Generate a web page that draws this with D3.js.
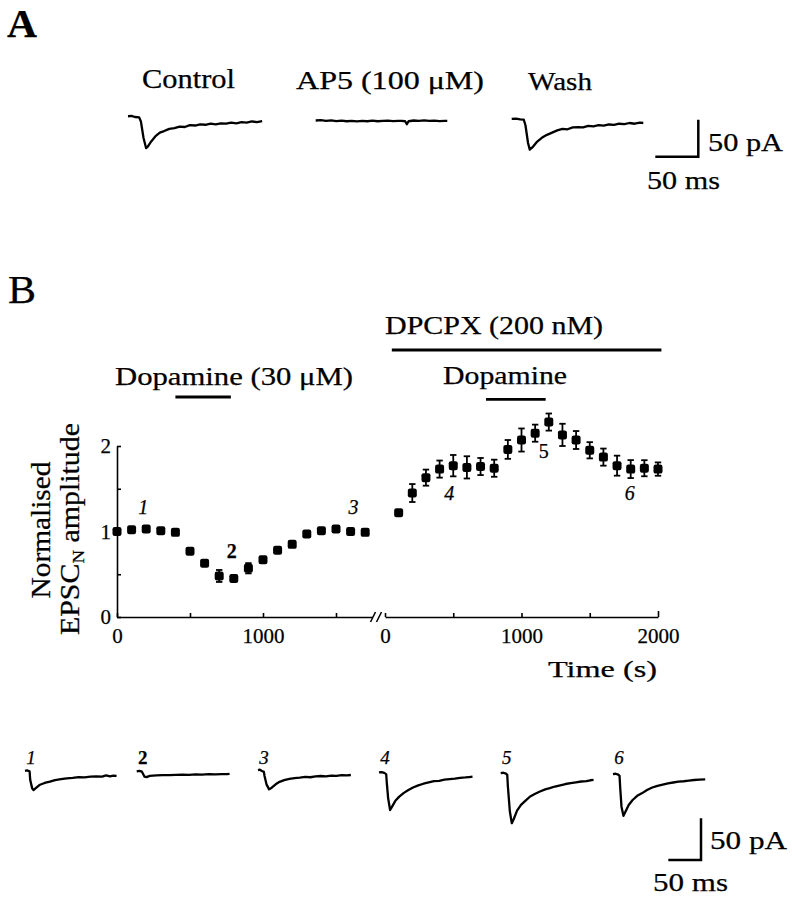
<!DOCTYPE html>
<html>
<head>
<meta charset="utf-8">
<script src="https://cdn.jsdelivr.net/npm/d3@7"></script>
<style>
  html, body { margin: 0; padding: 0; background: #fff; }
  svg { display: block; }
  text { font-family: "Liberation Serif", "Times New Roman", serif; fill: #000; stroke: #000; stroke-width: 0.25px; }
</style>
</head>
<body>
<svg id="chart" width="792" height="900"></svg>
<script>
// ---------------- DATA ----------------
// Panel B graph: control period (left segment) and in DPCPX (right segment)
const leftTime = [0,100,200,300,400,500,600,700,800,900,1000,1100,1200,1300,1400,1500,1600,1700];
const leftVal  = [1.00,1.02,1.03,1.01,0.99,0.77,0.63,0.48,0.45,0.57,0.67,0.78,0.85,0.97,1.01,1.03,1.00,0.99];
const leftErr  = [0.02,0.02,0.02,0.02,0.02,0.03,0.03,0.07,0.03,0.06,0.03,0.03,0.03,0.02,0.02,0.02,0.02,0.02];

const rightTime = [100,200,300,400,500,600,700,800,900,1000,1100,1200,1300,1400,1500,1600,1700,1800,1900,2000];
const rightVal  = [1.22,1.45,1.63,1.73,1.77,1.75,1.76,1.74,1.96,2.07,2.15,2.28,2.13,2.07,1.95,1.87,1.77,1.73,1.74,1.73];
const rightErr  = [0.02,0.105,0.094,0.10,0.125,0.13,0.10,0.10,0.11,0.135,0.10,0.10,0.13,0.105,0.095,0.10,0.117,0.105,0.094,0.078];

const yTicks = [0, 0.5, 1, 1.5, 2];
const yTickLabels = ["0", "", "1", "", "2"];
const leftXTicks = [0, 500, 1000, 1500];
const leftXTickLabels = ["0", "", "1000", ""];
const rightXTicks = [0, 500, 1000, 1500, 2000];
const rightXTickLabels = ["0", "", "1000", "", "2000"];

// drug application bars (s)
const dopamineLeft = [400, 780];
const dpcpxRight = [50, 2025];
const dopamineRight = [740, 1177];

// numbered sample points: [segment, time, label]
const sampleLabels = [["L",200,"1"],["L",800,"2"],["L",1600,"3"],["R",500,"4"],["R",1200,"5"],["R",1800,"6"]];

// Current traces: [time (ms), current (pA)]
const traceControl = [[0,1],[4,1.5],[8,0],[13,-0.5],[15,-6],[18,-28],[21,-42],[23,-40],[27,-33],[32,-26],[37,-21],[42,-19],[48,-16],[54,-15],[60,-13],[66,-13.5],[72,-11],[78,-11.5],[84,-10],[90,-10.5],[96,-9],[102,-10],[108,-8.5],[114,-9],[120,-7.5],[126,-8.5],[132,-7],[138,-7.5],[144,-6],[150,-7],[156,-5.5]];
const traceAP5 = [[0,0],[6,0.5],[12,-0.5],[18,0.3],[24,-0.8],[30,-0.2],[36,-1],[42,-0.5],[48,-1.2],[54,-0.6],[60,-1],[66,-0.3],[72,-1],[78,-0.5],[84,-0.2],[90,-0.9],[96,-0.4],[100,-0.6],[104,-1],[106,-5],[108,-1],[114,0],[120,-0.5],[126,0.2],[132,-0.6],[138,-0.3],[144,-0.8],[150,-0.5],[153,-0.6]];
const traceWash = [[0,0.5],[5,1],[10,0],[14,-0.5],[16,-8],[19,-32],[21,-41],[24,-38],[29,-31],[35,-25],[41,-21],[47,-18],[53,-15],[59,-13],[65,-13.5],[71,-11],[77,-10.5],[83,-11],[89,-9],[95,-9.5],[101,-8],[107,-8.5],[113,-7],[119,-7.5],[125,-6],[131,-6.5],[137,-5],[143,-6],[149,-4.5],[153,-5]];

const trace1 = [[0,1],[3,1.5],[7,0.5],[8,-10],[11,-20],[13,-22],[16,-20],[22,-16],[30,-13.5],[38,-12],[46,-10],[55,-9],[64,-8],[73,-7.5],[82,-6.5],[91,-6.8],[100,-6],[109,-5.5],[118,-6],[124,-4.5],[130,-5.5],[135,-4.8],[140,-5]];
const trace2 = [[0,0.5],[4,1],[8,0],[10,-3],[12,-6],[15,-6.5],[20,-5],[30,-4.5],[40,-4.2],[50,-4],[60,-3.8],[70,-3.5],[80,-3.8],[90,-3.2],[100,-3.5],[110,-3],[120,-3.3],[130,-2.8],[138,-3],[142,-2.6]];
const trace3 = [[0,1],[3,1.5],[6,0],[9,-1],[10,-6],[13,-16],[17,-22],[21,-20],[27,-16],[33,-13],[40,-11],[48,-9.5],[56,-8.5],[64,-8],[72,-7],[80,-7.5],[88,-6.5],[96,-6],[104,-6.5],[112,-5.5],[120,-5.8],[128,-5],[136,-5.3],[142,-4.8]];
const trace4 = [[0,1],[4,1.5],[8,0.5],[11,-1],[12,-12],[14,-30],[17,-44],[20,-40],[25,-33],[31,-28],[38,-23.5],[45,-20],[52,-17],[60,-14.5],[68,-12.5],[76,-11],[84,-9.5],[92,-9],[100,-7.5],[108,-7],[116,-6.5],[124,-5.5],[132,-5],[138,-4.5],[143,-4]];
const trace5 = [[0,1],[4,1.5],[8,0.5],[10,-1],[11,-15],[14,-45],[17,-59],[20,-54],[25,-44],[31,-37],[38,-32],[45,-27],[52,-24],[60,-21],[68,-18.5],[75,-17],[83,-15],[91,-13.5],[99,-12],[107,-11],[115,-10],[123,-9],[131,-8.5],[137,-7.5],[142,-7]];
const trace6 = [[0,1],[4,1.5],[8,0.5],[10,-1],[11,-15],[13,-38],[16,-49],[19,-44],[24,-36],[30,-30],[37,-25],[44,-22],[52,-18],[60,-15],[68,-13],[76,-11.5],[84,-10],[92,-9],[100,-8],[108,-7.5],[116,-6.8],[124,-6],[132,-5.5],[141,-5.2]];

const scaleBarMs = 50, scaleBarPA = 50;

// ---------------- DRAWING ----------------
const svg = d3.select("#chart");
const FONT = '"Liberation Serif", "Times New Roman", serif';

function txt(x, y, s, size, opts = {}) {
  const t = svg.append("text").attr("x", x).attr("y", y).text(s)
    .attr("font-size", size).attr("text-anchor", opts.anchor || "start");
  if (opts.weight) t.attr("font-weight", opts.weight);
  if (opts.italic) t.attr("font-style", "italic");
  if (opts.len) t.attr("textLength", opts.len).attr("lengthAdjust", "spacingAndGlyphs");
  return t;
}

// Panel letters
txt(7, 37, "A", 40, {weight: "bold", len: 30});
txt(8, 303, "B", 39, {len: 28});

// ---- Panel A traces ----
const xA = d3.scaleLinear().domain([0, 50]).range([0, 43]);
const yA = d3.scaleLinear().domain([0, 50]).range([0, -37]);
const lineA = d3.line().x(d => xA(d[0])).y(d => yA(d[1]));

const tracesA = [
  {data: traceControl, x: 128, y: 117},
  {data: traceAP5, x: 315.7, y: 120.5},
  {data: traceWash, x: 511.7, y: 119.3}
];
tracesA.forEach(t => {
  svg.append("path").attr("transform", `translate(${t.x},${t.y})`)
    .attr("d", lineA(t.data)).attr("fill", "none").attr("stroke", "#000")
    .attr("stroke-width", 2.3).attr("stroke-linejoin", "round");
});
txt(142, 87.5, "Control", 27, {len: 93});
txt(296, 88.5, "AP5 (100  \u03bcM)", 26, {len: 188});
txt(528, 90, "Wash", 26, {len: 64});

function scaleBar(cx, cy, xs, ys, labels) {
  const g = svg.append("g");
  g.append("path")
    .attr("d", `M${cx - (xs(scaleBarMs) - xs(0))},${cy}H${cx}V${cy + (ys(scaleBarPA) - ys(0))}`)
    .attr("fill", "none").attr("stroke", "#000").attr("stroke-width", 2.5);
  txt(labels.pa[0], labels.pa[1], "50 pA", 26, {len: labels.pa[2]});
  txt(labels.ms[0], labels.ms[1], "50 ms", 26, {len: labels.ms[2]});
}
scaleBar(698.3, 156.7, xA, yA, {pa: [708, 151, 75], ms: [647, 189, 73]});

// ---- Panel B graph ----
const y = d3.scaleLinear().domain([0, 2]).range([617, 446]);
const xL = d3.scaleLinear().domain([0, 1750]).range([117, 372.5]);
const xR = d3.scaleLinear().domain([0, 2000]).range([385, 658]);

// y axis
const yAxis = d3.axisLeft(y).tickValues(yTicks)
  .tickFormat((d, i) => yTickLabels[i]).tickSizeInner(-4).tickSizeOuter(0).tickPadding(6);
const gy = svg.append("g").attr("transform", `translate(${xL(0)},0)`).call(yAxis);
gy.selectAll("text").attr("font-size", 21).attr("font-family", FONT).attr("fill", "#000");
gy.selectAll("line, path").attr("stroke", "#000").attr("stroke-width", 1.6);

// x axes
function xAxis(scale, vals, labels) {
  const ax = d3.axisBottom(scale).tickValues(vals).tickFormat((d, i) => labels[i])
    .tickSizeInner(-4).tickSizeOuter(0).tickPadding(11);
  const g = svg.append("g").attr("transform", `translate(0,${y(0)})`).call(ax);
  g.selectAll("text").attr("font-size", 21).attr("font-family", FONT).attr("fill", "#000");
  g.selectAll("line, path").attr("stroke", "#000").attr("stroke-width", 1.6);
  return g;
}
xAxis(xL, leftXTicks, leftXTickLabels);
const gxr = xAxis(xR, rightXTicks, rightXTickLabels);
gxr.selectAll(".tick line").filter(d => d === 2000).attr("y2", -6);

// axis break marks
[[370.5, 375.5], [376.5, 381.5]].forEach(([a, b]) => {
  svg.append("line").attr("x1", a).attr("y1", 622).attr("x2", b).attr("y2", 612)
    .attr("stroke", "#000").attr("stroke-width", 1.6);
});

// axis titles
const yt = svg.append("g");
yt.append("text").attr("transform", "translate(50,530) rotate(-90)")
  .attr("text-anchor", "middle").attr("font-size", 27)
  .attr("textLength", 137).attr("lengthAdjust", "spacingAndGlyphs").text("Normalised");
const yt2 = yt.append("text").attr("transform", "translate(79,529) rotate(-90)")
  .attr("text-anchor", "middle").attr("font-size", 27)
  .attr("textLength", 212).attr("lengthAdjust", "spacingAndGlyphs");
yt2.append("tspan").text("EPSC");
yt2.append("tspan").attr("font-size", 17).attr("dy", 5).text("N");
yt2.append("tspan").attr("dy", -5).text(" amplitude");

txt(548, 677, "Time (s)", 23, {len: 109});

// data points
function drawPoints(scale, times, vals, errs) {
  const g = svg.append("g");
  times.forEach((t, i) => {
    const cx = scale(t), cy = y(vals[i]);
    const top = y(vals[i] + errs[i]), bot = y(vals[i] - errs[i]);
    g.append("line").attr("x1", cx).attr("x2", cx).attr("y1", top).attr("y2", bot)
      .attr("stroke", "#000").attr("stroke-width", 1.8);
    [top, bot].forEach(yy => g.append("line").attr("x1", cx - 3.2).attr("x2", cx + 3.2)
      .attr("y1", yy).attr("y2", yy).attr("stroke", "#000").attr("stroke-width", 1.8));
    g.append("rect").attr("x", cx - 4.5).attr("y", cy - 4.5).attr("width", 9).attr("height", 9)
      .attr("rx", 2.2).attr("fill", "#000");
  });
}
drawPoints(xL, leftTime, leftVal, leftErr);
drawPoints(xR, rightTime, rightVal, rightErr);

// sample number labels on graph
const labelPos = {"1": [-3, 514], "2": [-2, 558], "3": [3, 514], "4": [-4, 500], "5": [-5, 458], "6": [-1, 500]};
sampleLabels.forEach(([seg, t, s]) => {
  const sc = seg === "L" ? xL : xR;
  const p = labelPos[s];
  const italic = !(s === "2" || s === "5");
  txt(sc(t) + p[0], p[1], s, 20, {anchor: "middle", italic: italic, weight: s === "2" ? "bold" : null});
});

// drug bars
function drugBar(scale, range, yy) {
  svg.append("line").attr("x1", scale(range[0])).attr("x2", scale(range[1]))
    .attr("y1", yy).attr("y2", yy).attr("stroke", "#000").attr("stroke-width", 2.8);
}
drugBar(xL, dopamineLeft, 397);
drugBar(xR, dpcpxRight, 350);
drugBar(xR, dopamineRight, 399.3);
txt(115, 385, "Dopamine (30 \u03bcM)", 25, {len: 238});
txt(385, 334, "DPCPX (200 nM)", 26, {len: 218});
txt(443, 383.5, "Dopamine", 25, {len: 124});

// ---- Bottom traces ----
const xB = d3.scaleLinear().domain([0, 50]).range([0, 32.7]);
const yB = d3.scaleLinear().domain([0, 50]).range([0, -41.7]);
const lineB = d3.line().x(d => xB(d[0])).y(d => yB(d[1]));
const tracesB = [
  {data: trace1, x: 25, y: 771.7, lab: "1"},
  {data: trace2, x: 136.7, y: 771.7, lab: "2"},
  {data: trace3, x: 258, y: 771, lab: "3"},
  {data: trace4, x: 379, y: 773.3, lab: "4"},
  {data: trace5, x: 500.7, y: 774, lab: "5"},
  {data: trace6, x: 613, y: 775, lab: "6"}
];
tracesB.forEach(t => {
  svg.append("path").attr("transform", `translate(${t.x},${t.y})`)
    .attr("d", lineB(t.data)).attr("fill", "none").attr("stroke", "#000")
    .attr("stroke-width", 2.3).attr("stroke-linejoin", "round");
  txt(t.x + 6, 764, t.lab, 19, {anchor: "middle", italic: t.lab !== "2", weight: t.lab === "2" ? "bold" : null});
});
scaleBar(701, 860, xB, yB, {pa: [710, 849, 77], ms: [653, 891, 75]});
</script>
</body>
</html>
